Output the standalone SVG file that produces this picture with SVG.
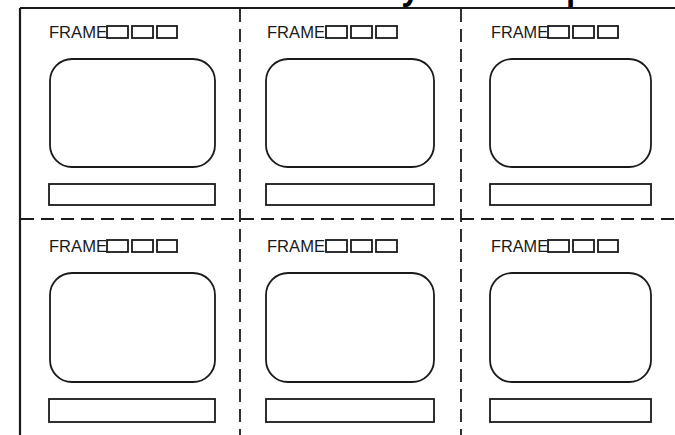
<svg xmlns="http://www.w3.org/2000/svg" width="675" height="435" viewBox="0 0 675 435">
<style>
.ln{fill:none;stroke:#1a1a1a;stroke-width:1.8}
.dash{fill:none;stroke:#1a1a1a;stroke-width:1.8;stroke-dasharray:13 7}
.lbl{font-family:"Liberation Sans",Arial,sans-serif;font-size:17px;fill:#1a1a1a}
.ttl{font-family:"Open Sans","Liberation Sans",sans-serif;font-weight:bold;font-size:30px;fill:#000}
</style>
<rect width="675" height="435" fill="#fff"/>
<text class="ttl" x="402" y="0">y</text>
<text class="ttl" x="566" y="0">p</text>
<g id="border">
<line class="ln" x1="20" y1="8" x2="675" y2="8" style="stroke-width:2.2"/>
<line class="ln" x1="20" y1="8" x2="20" y2="435" style="stroke-width:2.2"/>
</g>
<g id="connectors">
<line class="dash" x1="240" y1="9" x2="240" y2="435"/>
<line class="dash" x1="461" y1="9" x2="461" y2="435"/>
<line class="dash" x1="21" y1="219" x2="675" y2="219"/>
</g>
<g id="frame1">
<text class="lbl" x="49" y="38" textLength="58" lengthAdjust="spacingAndGlyphs">FRAME</text>
<rect class="ln" x="107" y="26" width="21" height="12"/><rect class="ln" x="132" y="26" width="21" height="12"/><rect class="ln" x="157" y="26" width="20" height="12"/>
<rect class="ln" x="50" y="59" width="165" height="108" rx="22"/>
<rect class="ln" x="49" y="184" width="166" height="21"/>
</g>
<g id="frame2">
<text class="lbl" x="267" y="38" textLength="58" lengthAdjust="spacingAndGlyphs">FRAME</text>
<rect class="ln" x="326" y="26" width="21" height="12"/><rect class="ln" x="351" y="26" width="21" height="12"/><rect class="ln" x="376" y="26" width="21" height="12"/>
<rect class="ln" x="266" y="59" width="168" height="108" rx="22"/>
<rect class="ln" x="266" y="184" width="168" height="21"/>
</g>
<g id="frame3">
<text class="lbl" x="491" y="38" textLength="57" lengthAdjust="spacingAndGlyphs">FRAME</text>
<rect class="ln" x="548" y="26" width="21" height="12"/><rect class="ln" x="573" y="26" width="21" height="12"/><rect class="ln" x="598" y="26" width="20" height="12"/>
<rect class="ln" x="490" y="59" width="161" height="108" rx="22"/>
<rect class="ln" x="490" y="184" width="161" height="21"/>
</g>
<g id="frame4">
<text class="lbl" x="49" y="252" textLength="58" lengthAdjust="spacingAndGlyphs">FRAME</text>
<rect class="ln" x="107" y="240" width="21" height="12"/><rect class="ln" x="132" y="240" width="21" height="12"/><rect class="ln" x="157" y="240" width="20" height="12"/>
<rect class="ln" x="50" y="273" width="165" height="109" rx="22"/>
<rect class="ln" x="49" y="399" width="166" height="23"/>
</g>
<g id="frame5">
<text class="lbl" x="267" y="252" textLength="58" lengthAdjust="spacingAndGlyphs">FRAME</text>
<rect class="ln" x="326" y="240" width="21" height="12"/><rect class="ln" x="351" y="240" width="21" height="12"/><rect class="ln" x="376" y="240" width="21" height="12"/>
<rect class="ln" x="266" y="273" width="168" height="109" rx="22"/>
<rect class="ln" x="266" y="399" width="168" height="23"/>
</g>
<g id="frame6">
<text class="lbl" x="491" y="252" textLength="57" lengthAdjust="spacingAndGlyphs">FRAME</text>
<rect class="ln" x="548" y="240" width="21" height="12"/><rect class="ln" x="573" y="240" width="21" height="12"/><rect class="ln" x="598" y="240" width="20" height="12"/>
<rect class="ln" x="490" y="273" width="161" height="109" rx="22"/>
<rect class="ln" x="490" y="399" width="161" height="23"/>
</g>
</svg>
